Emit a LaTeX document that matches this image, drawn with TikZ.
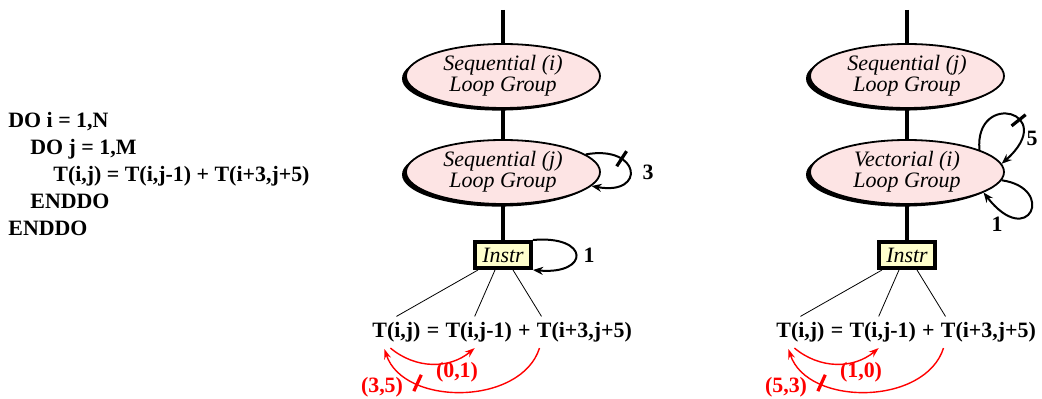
\documentclass[11pt,tikz,border=0pt]{standalone}
\usepackage{fontspec}
\setmainfont{Liberation Serif}
\usepackage{tikz}
\usetikzlibrary{arrows.meta,positioning,shapes.geometric,shadows}
\definecolor{groupfill}{RGB}{253,228,228}
\definecolor{instrfill}{RGB}{255,255,204}

\begin{document}
\begin{tikzpicture}[x=0.5pt,y=-0.5pt,
		grp/.style={ellipse,draw,line width=0.9pt,fill=groupfill,
				minimum width=97pt,minimum height=32pt,inner sep=0pt,
				align=center,font=\itshape\fontsize{11}{9.5}\selectfont,
				drop shadow={shadow xshift=-2pt,shadow yshift=-1.3pt,
					fill=black,opacity=1}},
		instr/.style={draw,line width=2pt,fill=instrfill,
				minimum width=28pt,minimum height=13pt,inner sep=1pt,
				font=\itshape},
		spine/.style={line width=2pt},
		selfdep/.style={-{Stealth[length=5pt,width=4pt]},line width=1pt},
		dep/.style={red,line width=0.7pt,-{Stealth[length=5pt,width=3.5pt]}},
		tick/.style={sloped,fill,inner sep=0pt,minimum width=1.6pt,
				minimum height=9pt},
		term/.style={font=\bfseries,inner sep=0pt},
		lbl/.style={font=\bfseries,inner sep=1pt}]
	\useasboundingbox (0,0) rectangle (1042,399);

	% source loop nest
	\node[font=\bfseries,align=left,anchor=west,inner sep=0pt] (src) at (8,174)
	{DO i = 1,N\\
		\hspace*{11pt}DO j = 1,M\\
		\hspace*{22.5pt}T(i,j) = T(i,j-1) + T(i+3,j+5)\\
		\hspace*{11pt}ENDDO\\
		ENDDO};

	% left: sequential i, sequential j
	\coordinate (topi) at (503,10);
	\node[grp] (seqi) at (503,76) {Sequential (i)\\Loop Group};
	\node[grp] (seqj) at (503,172) {Sequential (j)\\Loop Group};
	\node[instr] (ins) at (503,255) {Instr};
	\draw[spine] (topi) -- (seqi) -- (seqj) -- (ins);
	\draw[selfdep] (seqj.12) .. controls +(55,-10) and +(55,10) .. (seqj.-9)
		node[tick,pos=.3]{};
	\node[lbl] (d3) at (648,172) {3};
	\draw[selfdep] (ins.north east) .. controls +(57,-5) and +(57,5) .. (ins.south east);
	\node[lbl] (d1) at (589,255) {1};

	\node[term,anchor=base west] (ta) at (372,338) {T(i,j)};
	\node[term,base right=2.75pt of ta] (eq) {=};
	\node[term,base right=2.75pt of eq] (tb) {T(i,j-1)};
	\node[term,base right=2.75pt of tb] (pl) {+};
	\node[term,base right=2.75pt of pl] (tc) {T(i+3,j+5)};
	\draw[thin] ([xshift=2.5pt]ins.south west) -- ([yshift=3pt]ta.north);
	\draw[thin] ([xshift=-4pt]ins.south) -- ([xshift=-2pt,yshift=3pt]tb.north);
	\draw[thin] ([xshift=5pt]ins.south) -- ([xshift=2.5pt,yshift=3pt]tc.north west);
	\draw[dep] ([xshift=-3pt,yshift=-2.5pt]ta.south) to[bend right=40]
		([xshift=-2pt,yshift=-2.5pt]tb.south);
	\draw[dep] ([xshift=1.5pt,yshift=-2.5pt]tc.south west) to[bend left=72]
		node[tick,pos=.73]{} ([xshift=-6pt,yshift=-3pt]ta.south);
	\node[lbl,red] (v01) at (457,372) {(0,1)};
	\node[lbl,red] (v35) at (382,387) {(3,5)};

	% right: sequential j, vectorial i
	\coordinate (topj) at (907,10);
	\node[grp] (seqv) at (907,76) {Sequential (j)\\Loop Group};
	\node[grp] (vect) at (907,172) {Vectorial (i)\\Loop Group};
	\node[instr] (vins) at (907,255) {Instr};
	\draw[spine] (topj) -- (seqv) -- (vect) -- (vins);
	\draw[selfdep] (vect.17) .. controls +(-5,-60) and +(58,-52) .. (vect.5)
		node[tick,pos=.62]{};
	\node[lbl] (d5) at (1032,138) {5};
	\draw[selfdep] (vect.-5) .. controls +(55,8) and +(45,58) .. (vect.-15);
	\node[lbl] (dv1) at (997,224) {1};

	\node[term,anchor=base west] (va) at (776,338) {T(i,j)};
	\node[term,base right=2.75pt of va] (veq) {=};
	\node[term,base right=2.75pt of veq] (vb) {T(i,j-1)};
	\node[term,base right=2.75pt of vb] (vpl) {+};
	\node[term,base right=2.75pt of vpl] (vc) {T(i+3,j+5)};
	\draw[thin] ([xshift=2.5pt]vins.south west) -- ([yshift=3pt]va.north);
	\draw[thin] ([xshift=-4pt]vins.south) -- ([xshift=-2pt,yshift=3pt]vb.north);
	\draw[thin] ([xshift=5pt]vins.south) -- ([xshift=2.5pt,yshift=3pt]vc.north west);
	\draw[dep] ([xshift=-3pt,yshift=-2.5pt]va.south) to[bend right=40]
		([xshift=-2pt,yshift=-2.5pt]vb.south);
	\draw[dep] ([xshift=1.5pt,yshift=-2.5pt]vc.south west) to[bend left=72]
		node[tick,pos=.73]{} ([xshift=-6pt,yshift=-3pt]va.south);
	\node[lbl,red] (v10) at (861,372) {(1,0)};
	\node[lbl,red] (v53) at (786,387) {(5,3)};
\end{tikzpicture}
\end{document}
